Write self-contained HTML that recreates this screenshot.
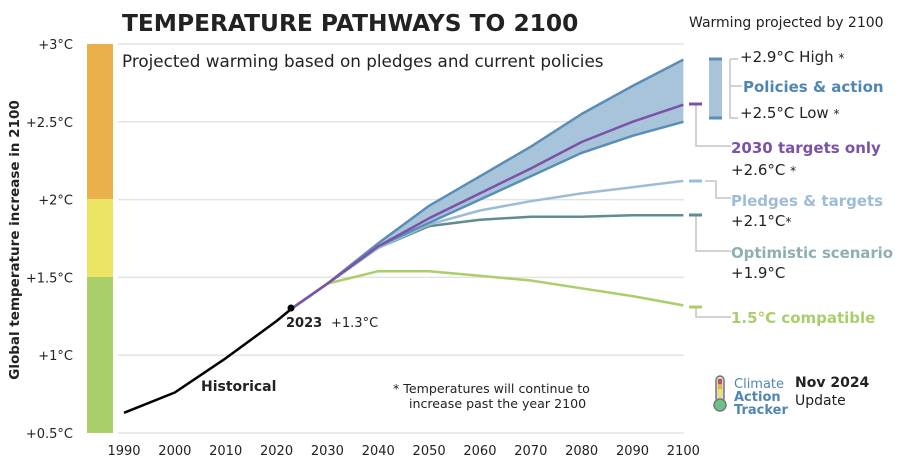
<!DOCTYPE html>
<html><head><meta charset="utf-8"><style>
html,body{margin:0;padding:0;background:#fff}
svg{display:block;font-family:"DejaVu Sans","Liberation Sans",sans-serif}
</style></head><body>
<svg id="s" width="918" height="464" viewBox="0 0 918 464">
<g id="grid" stroke="#e3e3e3" stroke-width="1.5"></g>
<rect x="87" y="44" width="26" height="155" fill="#eab04b"/>
<rect x="87" y="199" width="26" height="78" fill="#ebe465"/>
<rect x="87" y="277" width="26" height="156" fill="#a9cf6a"/>
<g id="ylab" font-size="13" fill="#222" text-anchor="end"></g>
<g id="xlab" font-size="13" fill="#222" text-anchor="middle"></g>
<text transform="translate(19,240) rotate(-90)" text-anchor="middle" font-size="13.5" font-weight="bold" fill="#222">Global temperature increase in 2100</text>
<text x="122" y="31" font-size="23.3" font-weight="bold" fill="#222">TEMPERATURE PATHWAYS TO 2100</text>
<text x="122" y="67" font-size="16.8" fill="#222">Projected warming based on pledges and current policies</text>
<g id="series" fill="none" stroke-width="2.5" stroke-linejoin="round"></g>
<circle cx="291" cy="308" r="3.5" fill="#000"/>
<text x="286" y="327" font-size="13" font-weight="bold" fill="#222">2023</text>
<text x="331" y="327" font-size="13" fill="#222">+1.3°C</text>
<text x="201" y="391" font-size="14" font-weight="bold" fill="#222">Historical</text>
<text x="393" y="393" font-size="12.6" fill="#222">*  Temperatures will continue to</text>
<text x="409" y="408" font-size="12.6" fill="#222">increase past the year 2100</text>
<text x="689" y="27" font-size="14" fill="#222">Warming projected by 2100</text>
<g stroke="#c4c4c4" stroke-width="1.5" fill="none">
<path d="M730 59H738M730 59V118H738M730 86H742"/>
<path d="M696 104V146H731"/>
<path d="M705 181H716V198H731"/>
<path d="M696 215V251H731"/>
<path d="M696 307V317H731"/>
</g>
<rect x="709" y="59" width="13" height="59" fill="#a8c4da"/>
<path d="M709 59H722M709 118H722" stroke="#5a8db8" stroke-width="3"/>
<path d="M689 104H702" stroke="#7b52a6" stroke-width="3"/>
<path d="M689 181H702" stroke="#9dbcd6" stroke-width="3"/>
<path d="M689 215H702" stroke="#5f8c8f" stroke-width="3"/>
<path d="M689 307H702" stroke="#a9cf6a" stroke-width="3"/>
<g font-size="15" fill="#222">
<text x="740" y="62">+2.9°C High <tspan font-size="12">*</tspan></text>
<text x="743" y="92" font-weight="bold" fill="#4f86b4">Policies &amp; action</text>
<text x="740" y="118">+2.5°C Low <tspan font-size="12">*</tspan></text>
<text x="731" y="153" font-weight="bold" fill="#7b52a6">2030 targets only</text>
<text x="731" y="175">+2.6°C <tspan font-size="12">*</tspan></text>
<text x="731" y="206" font-weight="bold" fill="#9dbcd6">Pledges &amp; targets</text>
<text x="731" y="226">+2.1°C<tspan font-size="12">*</tspan></text>
<text x="731" y="258" font-weight="bold" fill="#8fb0b3" textLength="162">Optimistic scenario</text>
<text x="731" y="278">+1.9°C</text>
<text x="731" y="323" font-weight="bold" fill="#a9cf6a">1.5°C compatible</text>
</g>
<rect x="716" y="376" width="8" height="26" rx="4" fill="#d9d9d9" stroke="#777" stroke-width="1.5"/>
<rect x="718" y="379" width="4" height="5" fill="#b5574b"/>
<rect x="718" y="384" width="4" height="5" fill="#e6b24a"/>
<rect x="718" y="389" width="4" height="8" fill="#e7e466"/>
<circle cx="720" cy="405" r="6" fill="#6cc28a" stroke="#777" stroke-width="1.5"/>
<g font-size="13" fill="#4f86b4">
<text x="734" y="388">Climate</text>
<text x="734" y="401" font-weight="bold">Action</text>
<text x="734" y="414" font-weight="bold">Tracker</text>
</g>
<text x="795" y="387" font-size="14" font-weight="bold" fill="#222">Nov 2024</text>
<text x="795" y="405" font-size="14" fill="#222">Update</text>
<script>
var X=function(y){return 124+(y-1990)*5.085},Y=function(t){return 433-(t-0.5)*155.6};
var NS="http://www.w3.org/2000/svg";
function el(p,tag,a,txt){var e=document.createElementNS(NS,tag);for(var k in a)e.setAttribute(k,a[k]);if(txt)e.textContent=txt;document.getElementById(p).appendChild(e);return e;}
var lab=["+0.5°C","+1°C","+1.5°C","+2°C","+2.5°C","+3°C"];
for(var i=0;i<6;i++){var t=0.5+i*0.5;el("grid","line",{x1:118,x2:684,y1:Y(t),y2:Y(t)});el("ylab","text",{x:73,y:Y(t)+5},lab[i]);}
for(var yr=1990;yr<=2100;yr+=10)el("xlab","text",{x:X(yr),y:455},yr);
var yrs=[2023,2030,2040,2050,2060,2070,2080,2090,2100];
function pts(arr,ys){return arr.map(function(v,i){return X(ys[i]).toFixed(1)+","+Y(v).toFixed(1)}).join(" ");}
var hi=[1.3,1.46,1.72,1.96,2.15,2.34,2.55,2.73,2.9];
var lo=[1.3,1.46,1.70,1.85,2.0,2.15,2.3,2.41,2.5];
var pu=[1.3,1.46,1.70,1.88,2.04,2.2,2.37,2.5,2.61];
var pl=[1.3,1.46,1.69,1.84,1.93,1.99,2.04,2.08,2.12];
var op=[1.3,1.46,1.69,1.83,1.87,1.89,1.89,1.9,1.9];
var c15=[1.3,1.46,1.54,1.54,1.51,1.48,1.43,1.38,1.32];
var band=pts(hi,yrs)+" "+pts(lo.slice().reverse(),yrs.slice().reverse());
el("series","polygon",{points:band,fill:"#a8c4da",stroke:"none"});
el("series","polyline",{points:pts(c15,yrs),stroke:"#a9cf6a"});
el("series","polyline",{points:pts(op,yrs),stroke:"#5f8c8f"});
el("series","polyline",{points:pts(pl,yrs),stroke:"#9dbcd6"});
el("series","polyline",{points:pts(hi,yrs),stroke:"#5a8db8"});
el("series","polyline",{points:pts(lo,yrs),stroke:"#5a8db8"});
el("series","polyline",{points:pts(pu,yrs),stroke:"#7b52a6"});
el("series","polyline",{points:pts([0.63,0.76,0.98,1.22,1.3],[1990,2000,2010,2020,2023]),stroke:"#000"});
</script>
</svg>
</body></html>
